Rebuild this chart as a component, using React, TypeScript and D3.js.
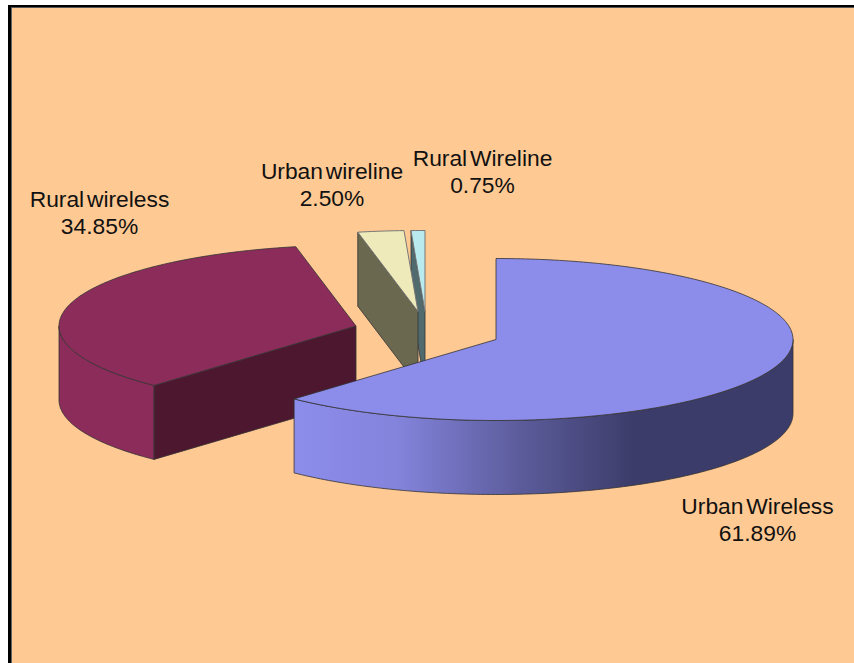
import React from "react";
import * as d3 from "d3";

const categories = ["Urban Wireless", "Rural wireless", "Urban wireline", "Rural Wireline"];
const shares = [61.89, 34.85, 2.5, 0.75];
const percentLabels = ["61.89%", "34.85%", "2.50%", "0.75%"];

const W = 854;
const H = 663;
const RX = 297;
const RY = 81;
const DEPTH = 74;
const apexes: [number, number][] = [[496, 339.5], [356, 326], [418, 311.5], [425, 311.5]];
const topColors = ["#8c8ceb", "#8b2c5a", "#eeeab9", "#b9eaee"];
const cutColors = ["#3c3c6a", "#4d1730", "#6b6850", "#506a6e"];
const labelPos: [number, number][] = [[757.5, 514], [99.5, 207], [332, 179], [482.5, 166]];

const arcs = d3.pie<number>().sort(null).value((d) => d).startAngle(0).endAngle(2 * Math.PI)(shares);

function pt(i: number, a: number, dz = 0): [number, number] {
  const [cx, cy] = apexes[i];
  return [cx + RX * Math.sin(a), cy - RY * Math.cos(a) + dz];
}
const line = d3.line();
function samples(a0: number, a1: number) {
  const n = Math.max(2, Math.ceil(Math.abs(a1 - a0) * 60));
  return d3.range(n + 1).map((k) => a0 + ((a1 - a0) * k) / n);
}
function topPath(i: number) {
  const s = arcs[i];
  return line([apexes[i], ...samples(s.startAngle, s.endAngle).map((a) => pt(i, a))]) + "Z";
}
function wallPath(i: number, a0: number, a1: number) {
  const s = samples(a0, a1);
  return line([...s.map((a) => pt(i, a)), ...s.slice().reverse().map((a) => pt(i, a, DEPTH))]) + "Z";
}
function cutPath(i: number, a: number) {
  const [x, y] = apexes[i];
  const p = pt(i, a);
  return line([[x, y], p, [p[0], p[1] + DEPTH], [x, y + DEPTH]]) + "Z";
}

const stroke = "#333";
const Label = ({ i }: { i: number }) => (
  <text x={labelPos[i][0]} y={labelPos[i][1]} textAnchor="middle" fontFamily="Liberation Sans" fontSize={22.8} fill="#111" wordSpacing={-3.5}>
    <tspan x={labelPos[i][0]}>{categories[i]}</tspan>
    <tspan x={labelPos[i][0]} dy={26.5}>{percentLabels[i]}</tspan>
  </text>
);

export default function App() {
  const a = arcs;
  return (
    <svg width={W} height={H} viewBox={`0 0 ${W} ${H}`} style={{ position: "fixed", left: 0, top: 0, display: "block" }}>
      <defs>
        <linearGradient id="blueWall" gradientUnits="userSpaceOnUse" x1={295} x2={793} y1={0} y2={0}>
          <stop offset="0" stopColor="#8c8ceb" />
          <stop offset="0.2" stopColor="#8484dd" />
          <stop offset="0.45" stopColor="#5c5c9c" />
          <stop offset="0.68" stopColor="#3c3c6a" />
          <stop offset="1" stopColor="#3c3c6a" />
        </linearGradient>
      </defs>
      <rect x={0} y={0} width={W} height={H} fill="#fff" />
      <rect x={8} y={5} width={W} height={H} fill="#ffc993" />
      <rect x={11} y={7} width={1} height={H} fill="#666" />
      <rect x={11} y={7} width={W} height={1} fill="#555" />
      <rect x={8} y={5} width={3} height={H} fill="#000" />
      <rect x={8} y={5} width={W} height={2} fill="#000" />

      <path d={cutPath(3, a[3].startAngle)} fill={cutColors[3]} stroke={stroke} strokeWidth={0.8} />
      <path d={topPath(3)} fill={topColors[3]} stroke="#777" strokeWidth={1} />

      <path d={cutPath(2, a[2].startAngle)} fill={cutColors[2]} stroke={stroke} strokeWidth={0.8} />
      <path d={topPath(2)} fill={topColors[2]} stroke="#777" strokeWidth={1} />

      <path d={wallPath(1, a[1].startAngle, 1.5 * Math.PI)} fill={topColors[1]} stroke={stroke} strokeWidth={0.8} />
      <path d={cutPath(1, a[1].startAngle)} fill={cutColors[1]} stroke={stroke} strokeWidth={0.8} />
      <path d={topPath(1)} fill={topColors[1]} stroke={stroke} strokeWidth={0.8} />

      <path d={wallPath(0, 0.5 * Math.PI, a[0].endAngle)} fill="url(#blueWall)" stroke={stroke} strokeWidth={0.8} />
      <path d={topPath(0)} fill={topColors[0]} stroke={stroke} strokeWidth={0.8} />

      {[0, 1, 2, 3].map((i) => <Label key={i} i={i} />)}
    </svg>
  );
}
